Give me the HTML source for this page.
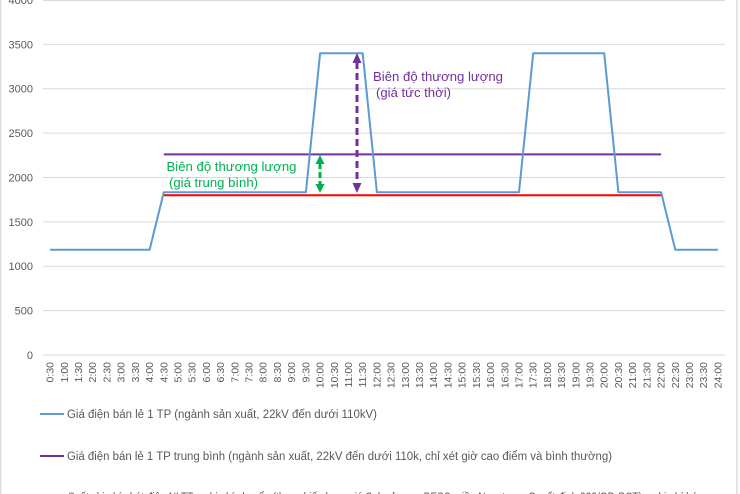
<!DOCTYPE html>
<html><head><meta charset="utf-8"><style>
html,body{margin:0;padding:0;background:#fff;}
svg{display:block;}
text{font-family:"Liberation Sans",Arial,sans-serif;}
</style></head><body>
<svg width="740" height="494" viewBox="0 0 740 494" xmlns="http://www.w3.org/2000/svg">
<rect x="0" y="0" width="740" height="494" fill="#fff"/>
<line x1="0.5" y1="0" x2="0.5" y2="494" stroke="#d9d9d9" stroke-width="1.5"/>
<line x1="737" y1="0" x2="737" y2="494" stroke="#d9d9d9" stroke-width="1.5"/>
<!-- gridlines -->
<g stroke="#d9d9d9" stroke-width="1">
<line x1="43" y1="0.5" x2="725" y2="0.5"/>
<line x1="43" y1="44.4" x2="725" y2="44.4"/>
<line x1="43" y1="88.75" x2="725" y2="88.75"/>
<line x1="43" y1="133.1" x2="725" y2="133.1"/>
<line x1="43" y1="177.5" x2="725" y2="177.5"/>
<line x1="43" y1="221.9" x2="725" y2="221.9"/>
<line x1="43" y1="266.25" x2="725" y2="266.25"/>
<line x1="43" y1="310.6" x2="725" y2="310.6"/>
<line x1="43" y1="355" x2="725" y2="355"/>
</g>
<!-- y labels -->
<g font-size="11" fill="#595959" text-anchor="end">
<text x="33" y="4">4000</text>
<text x="33" y="48.4">3500</text>
<text x="33" y="92.7">3000</text>
<text x="33" y="137.1">2500</text>
<text x="33" y="181.5">2000</text>
<text x="33" y="225.9">1500</text>
<text x="33" y="270.2">1000</text>
<text x="33" y="314.6">500</text>
<text x="33" y="359">0</text>
</g>
<!-- x labels -->
<g font-size="10.5" fill="#595959" text-anchor="end">
<text transform="translate(53.6,362) rotate(-90)">0:30</text>
<text transform="translate(67.8,362) rotate(-90)">1:00</text>
<text transform="translate(82.0,362) rotate(-90)">1:30</text>
<text transform="translate(96.2,362) rotate(-90)">2:00</text>
<text transform="translate(110.4,362) rotate(-90)">2:30</text>
<text transform="translate(124.6,362) rotate(-90)">3:00</text>
<text transform="translate(138.9,362) rotate(-90)">3:30</text>
<text transform="translate(153.1,362) rotate(-90)">4:00</text>
<text transform="translate(167.3,362) rotate(-90)">4:30</text>
<text transform="translate(181.5,362) rotate(-90)">5:00</text>
<text transform="translate(195.7,362) rotate(-90)">5:30</text>
<text transform="translate(209.9,362) rotate(-90)">6:00</text>
<text transform="translate(224.1,362) rotate(-90)">6:30</text>
<text transform="translate(238.3,362) rotate(-90)">7:00</text>
<text transform="translate(252.5,362) rotate(-90)">7:30</text>
<text transform="translate(266.7,362) rotate(-90)">8:00</text>
<text transform="translate(280.9,362) rotate(-90)">8:30</text>
<text transform="translate(295.1,362) rotate(-90)">9:00</text>
<text transform="translate(309.4,362) rotate(-90)">9:30</text>
<text transform="translate(323.6,362) rotate(-90)">10:00</text>
<text transform="translate(337.8,362) rotate(-90)">10:30</text>
<text transform="translate(352.0,362) rotate(-90)">11:00</text>
<text transform="translate(366.2,362) rotate(-90)">11:30</text>
<text transform="translate(380.4,362) rotate(-90)">12:00</text>
<text transform="translate(394.6,362) rotate(-90)">12:30</text>
<text transform="translate(408.8,362) rotate(-90)">13:00</text>
<text transform="translate(423.0,362) rotate(-90)">13:30</text>
<text transform="translate(437.2,362) rotate(-90)">14:00</text>
<text transform="translate(451.4,362) rotate(-90)">14:30</text>
<text transform="translate(465.6,362) rotate(-90)">15:00</text>
<text transform="translate(479.9,362) rotate(-90)">15:30</text>
<text transform="translate(494.1,362) rotate(-90)">16:00</text>
<text transform="translate(508.3,362) rotate(-90)">16:30</text>
<text transform="translate(522.5,362) rotate(-90)">17:00</text>
<text transform="translate(536.7,362) rotate(-90)">17:30</text>
<text transform="translate(550.9,362) rotate(-90)">18:00</text>
<text transform="translate(565.1,362) rotate(-90)">18:30</text>
<text transform="translate(579.3,362) rotate(-90)">19:00</text>
<text transform="translate(593.5,362) rotate(-90)">19:30</text>
<text transform="translate(607.7,362) rotate(-90)">20:00</text>
<text transform="translate(621.9,362) rotate(-90)">20:30</text>
<text transform="translate(636.1,362) rotate(-90)">21:00</text>
<text transform="translate(650.4,362) rotate(-90)">21:30</text>
<text transform="translate(664.6,362) rotate(-90)">22:00</text>
<text transform="translate(678.8,362) rotate(-90)">22:30</text>
<text transform="translate(693.0,362) rotate(-90)">23:00</text>
<text transform="translate(707.2,362) rotate(-90)">23:30</text>
<text transform="translate(721.4,362) rotate(-90)">24:00</text>
</g>
<!-- series -->
<polyline fill="none" stroke="#ff0000" stroke-width="2" points="163.8,195.25 661.1,195.25"/>
<polyline fill="none" stroke="#7030a0" stroke-width="2" points="163.8,154.4 661.1,154.4"/>
<polyline fill="none" stroke="#5b9bd5" stroke-width="2" stroke-linejoin="round" points="50.1,249.8 149.6,249.8 163.8,192.3 305.9,192.3 320.1,53.25 362.7,53.25 376.9,192.3 519.0,192.3 533.2,53.25 604.2,53.25 618.4,192.3 661.1,192.3 675.3,249.8 717.9,249.8"/>
<!-- purple dashed arrow -->
<line x1="357" y1="62" x2="357" y2="184" stroke="#7030a0" stroke-width="3" stroke-dasharray="7,4"/>
<polygon points="357,53 352.5,63 361.5,63" fill="#7030a0"/>
<polygon points="357,193 352.5,183 361.5,183" fill="#7030a0"/>
<!-- green dashed arrow -->
<line x1="320" y1="163" x2="320" y2="185" stroke="#00b050" stroke-width="3" stroke-dasharray="6,3"/>
<polygon points="320,155 315.5,164 324.5,164" fill="#00b050"/>
<polygon points="320,193 315.5,184 324.5,184" fill="#00b050"/>
<!-- annotations -->
<g font-size="12.5" fill="#7030a0">
<text x="373" y="81" textLength="130" lengthAdjust="spacingAndGlyphs">Biên độ thương lượng</text>
<text x="376" y="97" textLength="75" lengthAdjust="spacingAndGlyphs">(giá tức thời)</text>
</g>
<g font-size="12.5" fill="#00b050">
<text x="166.5" y="171" textLength="130" lengthAdjust="spacingAndGlyphs">Biên độ thương lượng</text>
<text x="169" y="187" textLength="89" lengthAdjust="spacingAndGlyphs">(giá trung bình)</text>
</g>
<!-- legend -->
<line x1="40" y1="414" x2="64" y2="414" stroke="#5b9bd5" stroke-width="2"/>
<text x="67" y="418" font-size="11.5" fill="#595959" textLength="310" lengthAdjust="spacingAndGlyphs">Giá điện bán lẻ 1 TP (ngành sản xuất, 22kV đến dưới 110kV)</text>
<line x1="40" y1="456" x2="64" y2="456" stroke="#7030a0" stroke-width="2"/>
<text x="67" y="460" font-size="11.5" fill="#595959" textLength="545" lengthAdjust="spacingAndGlyphs">Giá điện bán lẻ 1 TP trung bình (ngành sản xuất, 22kV đến dưới 110k, chỉ xét giờ cao điểm và bình thường)</text>
<!-- cut-off bottom legend entry -->
<text x="68" y="501" font-size="11.5" fill="#595959" textLength="635" lengthAdjust="spacingAndGlyphs">Suất chi phí phát điện NLTT + chi phí chuyển (theo chiến lược giá Solar farm + BESS miền Nam trong Quyết định 939/QĐ-BCT) + chi phí bán</text>
</svg>
</body></html>
